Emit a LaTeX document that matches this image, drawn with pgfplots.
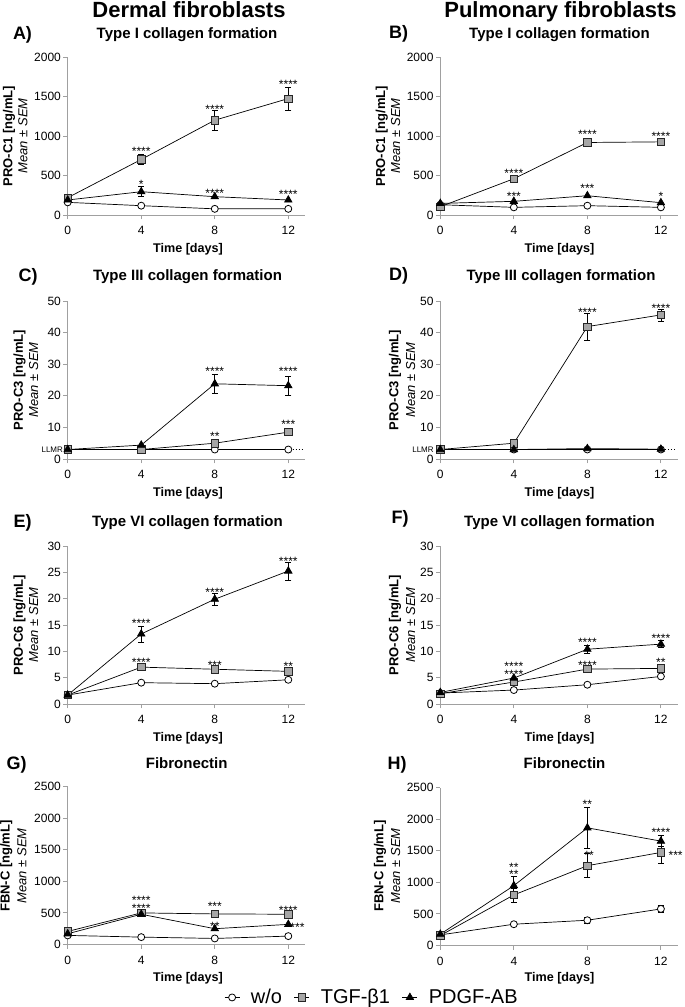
\documentclass[border=0pt]{standalone}
\usepackage{pgfplots}
\pgfplotsset{compat=1.18}
\usepackage{fontspec}
\setmainfont{Liberation Sans}
\newcommand{\fs}[1]{\fontsize{#1}{#1}\selectfont}
\newcommand{\twostars}[2]{\makebox[0pt]{#1}\makebox[0pt]{\raisebox{#2}{#1}}}
\definecolor{axgray}{HTML}{A0A0A0}
\definecolor{sqgray}{HTML}{A6A6A6}
\tikzset{
  wo/.style={black, line width=0.7pt, mark=*, mark size=3.5pt, mark options={fill=white, draw=black, solid, line width=0.8pt}},
  tgf/.style={black, line width=0.7pt, mark=square*, mark size=3.7pt, mark options={fill=sqgray, draw=black!85, solid, line width=0.7pt}},
  pdgf/.style={black, line width=0.7pt, mark=triangle*, mark size=4.3pt, mark options={fill=black, draw=black, solid}},
  st/.style={font=\fs{12}, anchor=base, yshift=-7pt, inner sep=0pt},
  llmr/.style={black, dash pattern=on 0.8pt off 2.2pt, line width=0.9pt},
}
\pgfplotsset{
  panel/.style={
    scale only axis, width=237.7pt, height=158pt,
    xmin=0, xmax=12.93, ymin=0,
    axis x line=bottom, axis y line=left,
    axis line style={-, draw=axgray, line width=0.9pt},
    major tick style={draw=axgray, line width=0.9pt},
    major tick length=4.3pt, xtick align=outside, ytick align=outside,
    xtick={0,4,8,12},
    tick label style={font=\fs{12}, text=black},
    xticklabel style={yshift=-3.5pt},
    yticklabel style={xshift=1pt},
    /pgf/number format/assume math mode=true,
    /pgf/number format/1000 sep={},
    clip=false, anchor=south west,
  },
  ebars/.style={forget plot, draw=none, mark=none, error bars/.cd, y dir=both, y explicit,
     error bar style={draw=black, line width=0.7pt},
     error mark options={rotate=90, mark size=3pt, draw=black, line width=0.7pt}},
}
\begin{document}
\begin{tikzpicture}
\useasboundingbox (0,0) rectangle (685pt,-1007pt);
% column headers
\node[anchor=base, font=\bfseries\fs{22}] at (189pt,-17.3pt) {Dermal fibroblasts};
\node[anchor=base, font=\bfseries\fs{22}] at (560.5pt,-17.3pt) {Pulmonary fibroblasts};
% panel letters and titles
\node[anchor=base, font=\bfseries\fs{18}] at (22.5pt,-39.4pt) {A)};
\node[anchor=base, font=\bfseries\fs{15}] at (187pt,-38.4pt) {Type I collagen formation};
\node[anchor=base, font=\bfseries\fs{18}] at (398.7pt,-38.4pt) {B)};
\node[anchor=base, font=\bfseries\fs{15}] at (559.5pt,-38.4pt) {Type I collagen formation};
\node[anchor=base, font=\bfseries\fs{18}] at (28pt,-281.4pt) {C)};
\node[anchor=base, font=\bfseries\fs{15}] at (187.5pt,-280.4pt) {Type III collagen formation};
\node[anchor=base, font=\bfseries\fs{18}] at (398.7pt,-280.4pt) {D)};
\node[anchor=base, font=\bfseries\fs{15}] at (561pt,-280.4pt) {Type III collagen formation};
\node[anchor=base, font=\bfseries\fs{18}] at (22.5pt,-527.4pt) {E)};
\node[anchor=base, font=\bfseries\fs{15}] at (187.5pt,-526.4pt) {Type VI collagen formation};
\node[anchor=base, font=\bfseries\fs{18}] at (400pt,-523.1pt) {F)};
\node[anchor=base, font=\bfseries\fs{15}] at (559.5pt,-526.4pt) {Type VI collagen formation};
\node[anchor=base, font=\bfseries\fs{18}] at (16.7pt,-769.1pt) {G)};
\node[anchor=base, font=\bfseries\fs{15}] at (186.7pt,-768.1pt) {Fibronectin};
\node[anchor=base, font=\bfseries\fs{18}] at (397pt,-769.1pt) {H)};
\node[anchor=base, font=\bfseries\fs{15}] at (564.5pt,-768.1pt) {Fibronectin};
% y labels
\node[rotate=90, anchor=base, font=\bfseries\fs{13}] at (12.3pt,-136pt) {PRO-C1 [ng/mL]};
\node[rotate=90, anchor=base, font=\itshape\fs{13}] at (27.3pt,-136pt) {Mean ± SEM};
\node[rotate=90, anchor=base, font=\bfseries\fs{13}] at (385pt,-136pt) {PRO-C1 [ng/mL]};
\node[rotate=90, anchor=base, font=\itshape\fs{13}] at (400pt,-136pt) {Mean ± SEM};
\node[rotate=90, anchor=base, font=\bfseries\fs{13}] at (23pt,-380pt) {PRO-C3 [ng/mL]};
\node[rotate=90, anchor=base, font=\itshape\fs{13}] at (38pt,-380pt) {Mean ± SEM};
\node[rotate=90, anchor=base, font=\bfseries\fs{13}] at (398.3pt,-380pt) {PRO-C3 [ng/mL]};
\node[rotate=90, anchor=base, font=\itshape\fs{13}] at (415pt,-380pt) {Mean ± SEM};
\node[rotate=90, anchor=base, font=\bfseries\fs{13}] at (23pt,-625pt) {PRO-C6 [ng/mL]};
\node[rotate=90, anchor=base, font=\itshape\fs{13}] at (38pt,-625pt) {Mean ± SEM};
\node[rotate=90, anchor=base, font=\bfseries\fs{13}] at (398.3pt,-625pt) {PRO-C6 [ng/mL]};
\node[rotate=90, anchor=base, font=\itshape\fs{13}] at (415pt,-625pt) {Mean ± SEM};
\node[rotate=90, anchor=base, font=\bfseries\fs{13}] at (9.7pt,-866pt) {FBN-C [ng/mL]};
\node[rotate=90, anchor=base, font=\itshape\fs{13}] at (26.3pt,-866pt) {Mean ± SEM};
\node[rotate=90, anchor=base, font=\bfseries\fs{13}] at (383.3pt,-866pt) {FBN-C [ng/mL]};
\node[rotate=90, anchor=base, font=\itshape\fs{13}] at (400pt,-866pt) {Mean ± SEM};
% x labels
\foreach \yy in {252,496,741,981.5} {
  \node[anchor=base, font=\bfseries\fs{12.6}] at (188pt,-\yy pt) {Time [days]};
  \node[anchor=base, font=\bfseries\fs{12.6}] at (559.5pt,-\yy pt) {Time [days]};
}

%% A
\begin{axis}[panel, at={(67.7pt,-215pt)}, ymax=2000, ytick={0,500,1000,1500,2000}]
\addplot[ebars] coordinates {(4,703) +- (0,67) (8,1200) +- (0,126) (12,1474) +- (0,147) (4,295) +- (0,63)};
\addplot[wo] coordinates {(0,160) (4,118) (8,78) (12,78)};
\addplot[tgf] coordinates {(0,219) (4,703) (8,1200) (12,1474)};
\addplot[pdgf] coordinates {(0,190) (4,295) (8,232) (12,190)};
\node[st] at (axis cs:4,842) {****};
\node[st] at (axis cs:8,1368) {****};
\node[st] at (axis cs:12,1684) {****};
\node[st] at (axis cs:4,421) {*};
\node[st] at (axis cs:8,316) {****};
\node[st] at (axis cs:12,295) {****};
\end{axis}

%% B
\begin{axis}[panel, at={(440.3pt,-215pt)}, ymax=2000, ytick={0,500,1000,1500,2000}]
\addplot[ebars] coordinates {(8,918) +- (0,50) (12,926) +- (0,45)};
\addplot[wo] coordinates {(0,130) (4,97) (8,118) (12,97)};
\addplot[tgf] coordinates {(0,105) (4,459) (8,918) (12,926)};
\addplot[pdgf] coordinates {(0,147) (4,173) (8,244) (12,156)};
\node[st] at (axis cs:4,568) {****};
\node[st] at (axis cs:8,1052) {****};
\node[st] at (axis cs:12,1031) {****};
\node[st] at (axis cs:4,274) {***};
\node[st] at (axis cs:8,370) {***};
\node[st] at (axis cs:12,274) {*};
\end{axis}

%% C
\begin{axis}[panel, at={(67.7pt,-459pt)}, ymax=50, ytick={0,10,20,30,40,50}]
\addplot[llmr, forget plot] coordinates {(0,3) (12.75,3)};
\addplot[ebars] coordinates {(8,23.8) +- (0,2.9) (12,23.2) +- (0,3.1)};
\addplot[wo] coordinates {(0,3) (4,3) (8,3) (12,3)};
\addplot[tgf] coordinates {(0,3) (4,3) (8,5) (12,8.5)};
\addplot[pdgf] coordinates {(0,3) (4,4.4) (8,23.8) (12,23.2)};
\node[anchor=east, font=\fs{8}, inner sep=0pt] at (axis cs:-0.25,3) {LLMR};
\node[st] at (axis cs:8,28.8) {****};
\node[st] at (axis cs:12,28.6) {****};
\node[st] at (axis cs:8,8.2) {**};
\node[st] at (axis cs:12,11.9) {***};
\end{axis}

%% D
\begin{axis}[panel, at={(440.3pt,-459pt)}, ymax=50, ytick={0,10,20,30,40,50}]
\addplot[llmr, forget plot] coordinates {(0,3) (12.75,3)};
\addplot[ebars] coordinates {(8,41.9) +- (0,4.3) (12,45.6) +- (0,1.9)};
\addplot[wo] coordinates {(0,3) (4,3) (8,3) (12,3)};
\addplot[tgf] coordinates {(0,3) (4,5) (8,41.9) (12,45.6)};
\addplot[pdgf] coordinates {(0,3) (4,3) (8,3.3) (12,3.1)};
\node[anchor=east, font=\fs{8}, inner sep=0pt] at (axis cs:-0.35,3) {LLMR};
\node[st] at (axis cs:8,47.4) {****};
\node[st] at (axis cs:12,48.7) {****};
\end{axis}

%% E
\begin{axis}[panel, at={(67.7pt,-704pt)}, ymax=30, ytick={0,5,10,15,20,25,30}]
\addplot[ebars] coordinates {(4,13.3) +- (0,1.5) (8,19.9) +- (0,1.1) (12,25.25) +- (0,1.7)};
\addplot[wo] coordinates {(0,1.7) (4,4.05) (8,3.86) (12,4.6)};
\addplot[tgf] coordinates {(0,1.7) (4,7.0) (8,6.6) (12,6.2)};
\addplot[pdgf] coordinates {(0,1.7) (4,13.3) (8,19.9) (12,25.25)};
\node[st] at (axis cs:4,15.8) {****};
\node[st] at (axis cs:8,21.8) {****};
\node[st] at (axis cs:12,27.7) {****};
\node[st] at (axis cs:4,8.5) {****};
\node[st] at (axis cs:8,7.9) {***};
\node[st] at (axis cs:12,7.7) {**};
\end{axis}

%% F
\begin{axis}[panel, at={(440.3pt,-704pt)}, ymax=30, ytick={0,5,10,15,20,25,30}]
\addplot[ebars] coordinates {(8,10.4) +- (0,0.8) (12,11.37) +- (0,0.7)};
\addplot[wo] coordinates {(0,2.08) (4,2.65) (8,3.66) (12,5.24)};
\addplot[tgf] coordinates {(0,1.96) (4,4.17) (8,6.63) (12,6.76)};
\addplot[pdgf] coordinates {(0,2.2) (4,4.93) (8,10.4) (12,11.37)};
\node[st] at (axis cs:4,6.2) {\twostars{****}{8.3pt}};
\node[st] at (axis cs:8,12.3) {****};
\node[st] at (axis cs:12,13.0) {****};
\node[st] at (axis cs:8,7.96) {****};
\node[st] at (axis cs:12,8.4) {**};
\end{axis}

%% G
\begin{axis}[panel, at={(67.7pt,-944.5pt)}, ymax=2500, ytick={0,500,1000,1500,2000,2500},
  legend style={at={(axis description cs:1.28,-0.335)}, anchor=center, draw=none, fill=none,
    font=\fs{20}, legend columns=3, /tikz/every even column/.append style={column sep=10pt},
    /tikz/every odd column/.append style={column sep=9pt}},
  legend image code/.code={\draw[#1, mark repeat=2, mark phase=2] plot coordinates {(0pt,0pt) (7.5pt,0pt) (15pt,0pt)};}]
\addlegendimage{wo}\addlegendentry{w/o}
\addlegendimage{tgf}\addlegendentry{TGF-β1}
\addlegendimage{pdgf}\addlegendentry{PDGF-AB}
\addplot[wo, forget plot] coordinates {(0,144) (4,117) (8,96) (12,133)};
\addplot[tgf, forget plot] coordinates {(0,207) (4,500) (8,484) (12,479)};
\addplot[pdgf, forget plot] coordinates {(0,170) (4,479) (8,250) (12,319)};
\node[st] at (axis cs:4,612) {\twostars{****}{8.3pt}};
\node[st] at (axis cs:8,649) {***};
\node[st] at (axis cs:8,330) {**};
\node[st] at (axis cs:12,580) {****};
\node[st] at (axis cs:12.5,314) {***};
\end{axis}

%% H
\begin{axis}[panel, at={(440.3pt,-945.5pt)}, ymax=2500, ytick={0,500,1000,1500,2000,2500}]
\addplot[ebars] coordinates {(8,400) +- (0,45) (12,579) +- (0,55) (4,800) +- (0,110) (8,1263) +- (0,190) (12,1473) +- (0,170) (4,947) +- (0,150) (8,1862) +- (0,330) (12,1652) +- (0,85)};
\addplot[wo] coordinates {(0,168) (4,337) (8,400) (12,579)};
\addplot[tgf] coordinates {(0,158) (4,800) (8,1263) (12,1473)};
\addplot[pdgf] coordinates {(0,179) (4,947) (8,1862) (12,1652)};
\node[st] at (axis cs:4,1178) {\twostars{**}{6.3pt}};
\node[st] at (axis cs:8,2272) {**};
\node[st] at (axis cs:8.1,1473) {**};
\node[st] at (axis cs:12,1836) {****};
\node[st] at (axis cs:12.8,1473) {***};
\end{axis}
\end{tikzpicture}
\end{document}
